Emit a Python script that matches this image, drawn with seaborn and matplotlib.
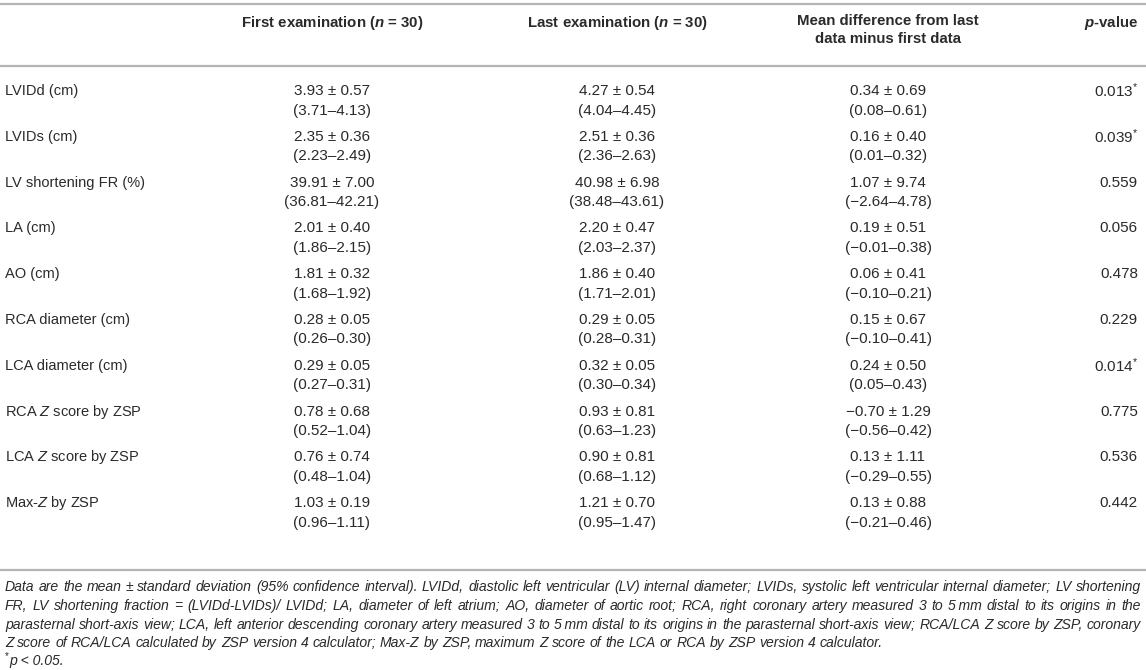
import matplotlib
matplotlib.use("Agg")
import matplotlib.pyplot as plt
import seaborn as sns

# --- table data ---
row_labels = ["LVIDd (cm)", "LVIDs (cm)", "LV shortening FR (%)", "LA (cm)", "AO (cm)",
              "RCA diameter (cm)", "LCA diameter (cm)", r"RCA $Z$ score by ZSP",
              r"LCA $Z$ score by ZSP", r"Max-$Z$ by ZSP"]
first_mean = [3.93, 2.35, 39.91, 2.01, 1.81, 0.28, 0.29, 0.78, 0.76, 1.03]
first_sd = [0.57, 0.36, 7.00, 0.40, 0.32, 0.05, 0.05, 0.68, 0.74, 0.19]
first_ci = [(3.71, 4.13), (2.23, 2.49), (36.81, 42.21), (1.86, 2.15), (1.68, 1.92),
            (0.26, 0.30), (0.27, 0.31), (0.52, 1.04), (0.48, 1.04), (0.96, 1.11)]
last_mean = [4.27, 2.51, 40.98, 2.20, 1.86, 0.29, 0.32, 0.93, 0.90, 1.21]
last_sd = [0.54, 0.36, 6.98, 0.47, 0.40, 0.05, 0.05, 0.81, 0.81, 0.70]
last_ci = [(4.04, 4.45), (2.36, 2.63), (38.48, 43.61), (2.03, 2.37), (1.71, 2.01),
           (0.28, 0.31), (0.30, 0.34), (0.63, 1.23), (0.68, 1.12), (0.95, 1.47)]
diff_mean = [0.34, 0.16, 1.07, 0.19, 0.06, 0.15, 0.24, -0.70, 0.13, 0.13]
diff_sd = [0.69, 0.40, 9.74, 0.51, 0.41, 0.67, 0.50, 1.29, 1.11, 0.88]
diff_ci = [(0.08, 0.61), (0.01, 0.32), (-2.64, 4.78), (-0.01, 0.38), (-0.10, 0.21),
           (-0.10, 0.41), (0.05, 0.43), (-0.56, 0.42), (-0.29, 0.55), (-0.21, 0.46)]
p_values = [0.013, 0.039, 0.559, 0.056, 0.478, 0.229, 0.014, 0.775, 0.536, 0.442]

headers = [r"First examination ($\mathbf{n}$ = 30)",
           r"Last examination ($\mathbf{n}$ = 30)",
           "Mean difference from last\ndata minus first data",
           r"$\mathbf{p}$-value"]

footnote_lines = [
    "Data are the mean \u00b1 standard deviation (95% confidence interval). LVIDd, diastolic left ventricular (LV) "
    "internal diameter; LVIDs, systolic left ventricular internal diameter; LV shortening",
    "FR, LV shortening fraction = (LVIDd-LVIDs)/ LVIDd; LA, diameter of left atrium; AO, diameter of aortic root; "
    "RCA, right coronary artery measured 3 to 5\u2009mm distal to its origins in the",
    "parasternal short-axis view; LCA, left anterior descending coronary artery measured 3 to 5\u2009mm distal to "
    "its origins in the parasternal short-axis view; RCA/LCA Z score by ZSP, coronary",
    "Z score of RCA/LCA calculated by ZSP version 4 calculator; Max-Z by ZSP, maximum Z score of the LCA or RCA "
    "by ZSP version 4 calculator.",
]
sig_mark = "*"
sig_note = "p < 0.05."


def num(v):
    s = f"{abs(v):.2f}"
    return "\u2212" + s if v < 0 else s


def mean_sd(m, s):
    return f"{num(m)} \u00b1 {num(s)}"


def ci(lo_hi):
    return f"({num(lo_hi[0])}\u2013{num(lo_hi[1])})"


sns.set_theme(style="white")
plt.rcParams['font.family'] = ['Liberation Sans', 'DejaVu Sans']
plt.rcParams['mathtext.fontset'] = 'custom'
plt.rcParams['mathtext.rm'] = 'Liberation Sans'
plt.rcParams['mathtext.it'] = 'Liberation Sans:italic'
plt.rcParams['mathtext.bf'] = 'Liberation Sans:italic:bold'

W, H = 1146, 670
fig = plt.figure(figsize=(W / 100, H / 100), dpi=100)
ax = fig.add_axes([0, 0, 1, 1])
ax.set_xlim(0, W)
ax.set_ylim(H, 0)
ax.axis("off")

txt = "#2a2a2a"
rule = "#b4b4b4"
fs = 10.5      # labels
fs_val = 11    # cell values
fs_head = 10.8

# rules
for y in [4, 66, 570]:
    ax.axhline(y, color=rule, lw=1.6)

col_x = [332, 617, 888]
p_right = 1138
y_head = 23
ax.text(col_x[0], y_head, headers[0], ha="center", va="center", fontsize=fs_head, fontweight="bold", color=txt)
ax.text(col_x[1], y_head, headers[1], ha="center", va="center", fontsize=fs_head, fontweight="bold", color=txt)
ax.text(col_x[2], y_head - 9, headers[2], ha="center", va="top", fontsize=fs_head, fontweight="bold",
        color=txt, linespacing=1.4)
ax.text(p_right, y_head, headers[3], ha="right", va="center", fontsize=fs_head, fontweight="bold", color=txt)

y0, dy, dl = 91, 45.8, 19.5
for i, lab in enumerate(row_labels):
    y = y0 + i * dy
    ax.text(5, y, lab, ha="left", va="center", fontsize=fs, color=txt)
    for cx, m, s, c in [(col_x[0], first_mean, first_sd, first_ci),
                        (col_x[1], last_mean, last_sd, last_ci),
                        (col_x[2], diff_mean, diff_sd, diff_ci)]:
        ax.text(cx, y, mean_sd(m[i], s[i]), ha="center", va="center", fontsize=fs_val, color=txt)
        ax.text(cx, y + dl, ci(c[i]), ha="center", va="center", fontsize=fs_val, color=txt)
    p_txt = f"{p_values[i]:.3f}" + (r"$^{*}$" if p_values[i] < 0.05 else "")
    ax.text(p_right, y, p_txt, ha="right", va="center", fontsize=fs_val, color=txt)

# footnote, justified like the journal layout
fn_fs = 10.1
fn_left, fn_right = 5, 1141
fn_y0, fn_dy = 587, 18.8
fig.canvas.draw()
renderer = fig.canvas.get_renderer()
sp = ax.text(0, 0, "a a", fontsize=fn_fs, style="italic")
sp2 = ax.text(0, 0, "aa", fontsize=fn_fs, style="italic")
space_w = sp.get_window_extent(renderer).width - sp2.get_window_extent(renderer).width
sp.remove()
sp2.remove()
for k, line in enumerate(footnote_lines):
    y = fn_y0 + k * fn_dy
    words = line.split(" ")
    objs = [ax.text(0, y, w, ha="left", va="center", fontsize=fn_fs, style="italic", color=txt)
            for w in words]
    widths = [o.get_window_extent(renderer).width for o in objs]
    if k < len(footnote_lines) - 1:
        gap = (fn_right - fn_left - sum(widths)) / (len(words) - 1)
    else:
        gap = space_w
    x = fn_left
    for o, w in zip(objs, widths):
        o.set_x(x)
        x += w + gap

star = ax.text(fn_left, 656, sig_mark, ha="left", va="center", fontsize=7, color=txt)
star_w = star.get_window_extent(renderer).width
ax.text(fn_left + star_w + 0.5, 661, sig_note, ha="left", va="center", fontsize=fn_fs,
        style="italic", color=txt)

fig.savefig("out.png", dpi=100)
